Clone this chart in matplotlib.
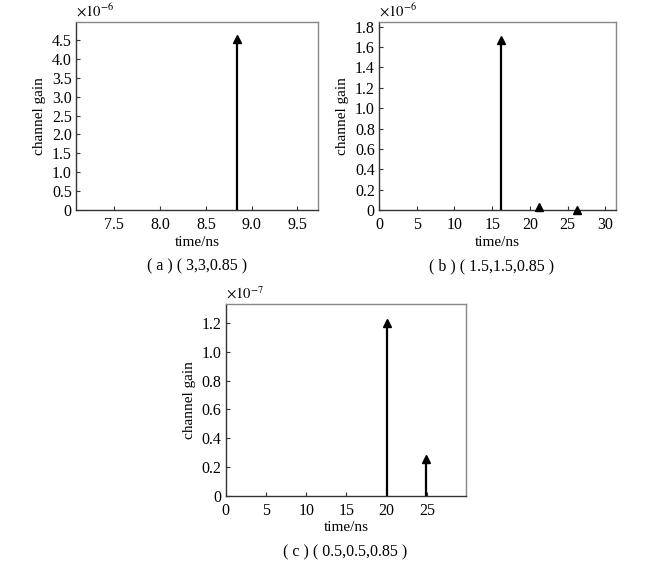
import matplotlib
matplotlib.use("Agg")
import matplotlib.pyplot as plt
from matplotlib.ticker import FuncFormatter, FixedLocator

plt.rcParams['font.family'] = ['Liberation Serif', 'Noto Sans CJK SC']
plt.rcParams['mathtext.fontset'] = 'stix'

# Data
a_time = [8.84]
a_gain = [4.52e-6]
b_time = [16.2, 21.2, 26.2]
b_gain = [1.67e-6, 0.035e-6, 0.005e-6]
c_time = [20.0, 24.9]
c_gain = [1.20e-7, 0.255e-7]

a_xticks = [7.5, 8.0, 8.5, 9.0, 9.5]
a_yticks = [0, 0.5, 1.0, 1.5, 2.0, 2.5, 3.0, 3.5, 4.0, 4.5]
b_xticks = [0, 5, 10, 15, 20, 25, 30]
b_yticks = [0, 0.2, 0.4, 0.6, 0.8, 1.0, 1.2, 1.4, 1.6, 1.8]
c_xticks = [0, 5, 10, 15, 20, 25]
c_yticks = [0, 0.2, 0.4, 0.6, 0.8, 1.0, 1.2]

captions = ['( a ) ( 3,3,0.85 )', '( b ) ( 1.5,1.5,0.85 )', '( c ) ( 0.5,0.5,0.85 )']

W, H = 654, 566
fig = plt.figure(figsize=(W/100, H/100), dpi=100)

def box(l, t, r, b):
    return [l/W, 1 - b/H, (r-l)/W, (b-t)/H]

def panel(rect, t, g, scale, exp, xlim, ylim, xticks, yticks, xfmt, caption, cap_xy):
    ax = fig.add_axes(rect)
    for ti, gi in zip(t, g):
        ax.vlines(ti, 0, gi, color='black', lw=1.6, zorder=3)
        ax.plot([ti], [gi], marker='^', color='black', ms=6, zorder=4, clip_on=False)
    ax.set_xlim(*xlim)
    ax.set_ylim(ylim[0]*scale, ylim[1]*scale)
    ax.xaxis.set_major_locator(FixedLocator(xticks))
    ax.yaxis.set_major_locator(FixedLocator([v*scale for v in yticks]))
    ax.xaxis.set_major_formatter(FuncFormatter(xfmt))
    ax.yaxis.set_major_formatter(FuncFormatter(
        lambda v, p: '0' if abs(v) < scale*1e-6 else f'{v/scale:.1f}'))
    ax.tick_params(direction='in', length=3, width=0.8, labelsize=11.5,
                   top=False, right=False, color='#333333')
    ax.tick_params(axis='x', pad=5)
    ax.tick_params(axis='y', pad=3)
    for s in ['left', 'bottom']:
        ax.spines[s].set_color('#333333')
        ax.spines[s].set_linewidth(1.0)
    for s in ['top', 'right']:
        ax.spines[s].set_color('#888888')
        ax.spines[s].set_linewidth(1.0)
    ax.set_xlabel('time/ns', fontsize=11, labelpad=2)
    ax.set_ylabel('channel gain', fontsize=11, labelpad=4)
    ax.text(0.0, 1.015, r'$\times10^{%d}$' % exp, transform=ax.transAxes,
            fontsize=10.5, ha='left', va='bottom')
    fig.text(cap_xy[0]/W, 1 - cap_xy[1]/H, caption, fontsize=11.5,
             ha='center', va='center')
    return ax

fmt1 = lambda v, p: f'{v:.1f}'
fmt0 = lambda v, p: f'{v:g}'

panel(box(76, 22.3, 318, 210.3), a_time, a_gain, 1e-6, -6, (7.08, 9.725), (0, 4.96),
      a_xticks, a_yticks, fmt1, captions[0], (197, 266))
panel(box(379, 22.3, 616, 210.3), b_time, b_gain, 1e-6, -6, (0, 31.4), (0, 1.843),
      b_xticks, b_yticks, fmt0, captions[1], (492, 266))
panel(box(225.7, 304.3, 466.3, 495.7), c_time, c_gain, 1e-7, -7, (0, 29.9), (0, 1.33),
      c_xticks, c_yticks, fmt0, captions[2], (345, 552))

fig.savefig('out.png', dpi=100)
